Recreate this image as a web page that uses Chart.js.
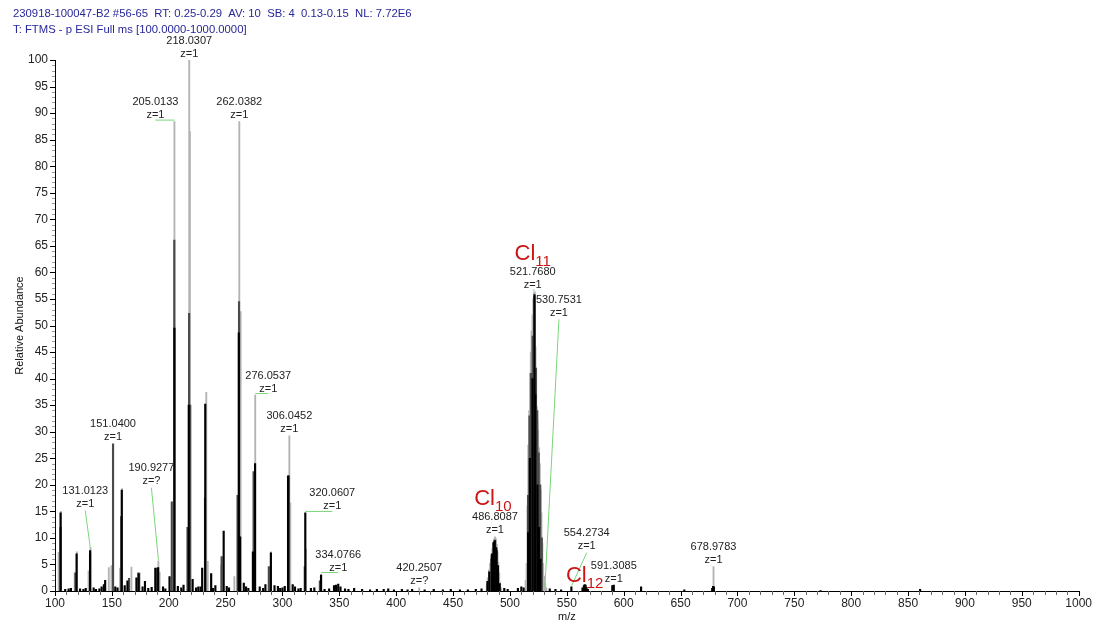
<!DOCTYPE html>
<html>
<head>
<meta charset="utf-8">
<script src="https://cdn.jsdelivr.net/npm/chart.js@4.4.1/dist/chart.umd.min.js"></script>
<style>
  html, body { margin: 0; padding: 0; background: #fff; }
  #wrap { width: 1097px; height: 626px; }
</style>
</head>
<body>
<div id="wrap"><canvas id="spec" width="1097" height="626"></canvas></div>
<script>
// header lines of the scan
const headerLines = [
  '230918-100047-B2 #56-65  RT: 0.25-0.29  AV: 10  SB: 4  0.13-0.15  NL: 7.72E6',
  'T: FTMS - p ESI Full ms [100.0000-1000.0000]'
];

// light grey profile tops (m/z, relative abundance)
const greyMz = [103.2, 104.4, 105.3, 117.3, 119.2, 129.5, 131.2, 147.3, 149.6, 157.2, 159.0,
  167.2, 174.5, 190.9, 192.0, 205.01, 218.03, 218.6, 233.0, 234.3, 246.0, 257.7, 262.04,
  263.2, 276.05, 289.9, 306.05, 306.9, 320.7, 334.08, 420.25,
  479.6, 480.5, 481.5, 482.5, 483.5, 484.5, 485.3, 486.0, 486.8, 487.5, 488.3, 489.0,
  489.8, 490.6, 491.4, 492.3,
  513.8, 514.6, 515.4, 516.1, 516.9, 517.6, 518.3, 519.0, 519.8, 520.5, 521.1, 521.77,
  522.5, 523.1, 523.7, 524.2, 524.8, 525.5, 526.3, 527.0, 527.7, 528.5, 529.2, 530.0,
  531.0, 532.0, 678.98];
const greyAb = [7.3, 11.9, 15.0, 3.4, 7.4, 3.8, 8.2, 4.4, 4.8, 4.3, 19.3,
  4.5, 3.4, 5.7, 3.5, 88.4, 100, 86.5, 37.4, 5.6, 4.9, 2.7, 88.4,
  52.6, 36.9, 7.4, 29.2, 16.6, 7.9, 3.2, 0.6,
  1.2, 2.5, 4.0, 5.2, 6.6, 8.0, 9.2, 9.8, 10.2, 9.9, 8.8, 7.3,
  5.4, 3.4, 1.6, 0.6,
  2.0, 5.2, 16, 27.5, 34, 41, 45, 49, 52, 55, 56.2, 56.4,
  46, 42, 34.7, 32, 30.3, 27, 24, 19, 14.7, 9, 5.2, 2.8,
  1.5, 0.6, 4.6];

// dark grey centroid sticks
const darkMz = [105.0, 118.0, 130.8, 151.04, 158.2, 165.1, 173.3, 189.6, 202.7, 204.9,
  216.5, 217.9, 218.9, 231.9, 246.5, 260.5, 261.8, 274.6, 288.0, 305.6, 319.6, 332.9,
  483.6, 485.4, 487.0, 488.6,
  515.9, 517.2, 518.6, 520.0, 521.4, 522.8, 524.0, 525.3, 526.6, 528.0];
const darkAb = [12.0, 3.4, 7.0, 27.7, 14.0, 2.4, 3.4, 4.3, 16.8, 66.1,
  12.0, 52.3, 35.0, 17.5, 6.5, 18.0, 54.5, 22.5, 4.6, 21.7, 4.6, 1.9,
  6.0, 9.0, 9.6, 7.6,
  18, 33, 41, 48, 55.5, 42, 34, 26, 20, 10];

// black sticks, including the low level baseline peaks
const blackMz = [104.9, 109, 112, 114, 119.0, 122, 125, 127, 130.9, 134, 136, 139, 141, 143,
  144.1, 153, 155, 158.7, 161.3, 163.7, 171.6, 173.6, 177, 179.1, 182, 185, 188.2, 190.7,
  195, 197, 200.7, 205.0, 208, 211, 213, 217.6, 221, 224, 226, 228, 229.4, 232.1, 237.3,
  239, 241, 248.3, 251, 253, 261.6, 262.8, 266, 268, 270, 274.0, 275.9, 280, 283, 285,
  289.8, 293, 296, 298, 300, 302, 304.9, 309, 311, 314, 316, 320.06, 325, 328, 333.9,
  337, 341, 345.3, 347, 349, 351, 355, 358, 363, 370, 377, 383, 389, 393, 398, 405, 410,
  414, 425, 433, 441, 448, 456, 463, 470, 475,
  480.2, 481.8, 484.1, 485.8, 486.6, 488.0, 489.5, 491.0,
  495, 498, 507, 510, 512,
  516.0, 517.5, 519.8, 521.6, 522.3, 524.2, 525.4, 526.8,
  535, 540, 545, 554.0, 563.8, 565.0, 565.7, 566.5, 567.3, 568.5, 590.0, 591.3, 615.3,
  653.3, 677.8, 678.6, 679.3, 773, 860.6];
const blackAb = [14.7, 0.3, 0.4, 0.5, 7.0, 0.4, 0.3, 0.5, 7.6, 0.6, 0.3, 0.4, 0.8, 1.2,
  2.0, 0.8, 0.6, 19.0, 1.0, 1.9, 2.5, 3.3, 0.8, 1.8, 0.5, 0.7, 4.3, 4.4,
  0.8, 0.4, 2.7, 49.5, 0.9, 0.6, 1.1, 35.0, 2.2, 0.6, 0.8, 0.8, 4.3, 35.2, 3.3,
  0.5, 1.0, 11.3, 0.9, 0.6, 48.6, 10.2, 1.5, 0.8, 0.5, 7.4, 24.0, 0.8, 0.5, 1.2,
  7.2, 1.0, 0.9, 0.5, 0.6, 0.9, 21.7, 1.2, 0.8, 0.4, 0.5, 14.7, 0.5, 0.6, 3.0,
  0.3, 0.4, 1.0, 1.1, 1.3, 0.8, 0.4, 0.3, 0.5, 0.3, 0.2, 0.3, 0.3, 0.4, 0.2, 0.3, 0.2,
  0.3, 0.2, 0.3, 0.2, 0.3, 0.2, 0.2, 0.3, 0.4,
  1.8, 3.6, 7.0, 9.2, 9.5, 8.2, 4.8, 1.4,
  0.5, 0.3, 0.5, 0.8, 0.6,
  11, 25, 40, 55.8, 37, 20, 12, 6,
  0.4, 0.3, 0.2, 0.8, 0.6, 1.0, 1.2, 1.1, 0.7, 0.3, 1.0, 1.1, 0.8,
  0.2, 0.5, 0.9, 0.8, 0.1, 0.3];

// annotated peaks
const labelMz = [131.0123, 151.0400, 190.9277, 205.0133, 218.0307, 262.0382, 276.0537,
  306.0452, 320.0607, 334.0766, 420.2507, 486.8087, 521.7680, 530.7531, 554.2734,
  591.3085, 678.9783];
const labelAb = [8.0, 27.7, 5.7, 88.4, 100, 88.4, 36.9, 29.2, 14.7, 3.2, 0.6, 10.2, 56.4,
  0.5, 0.8, 1.1, 4.6];
const labelZ = ['z=1', 'z=1', 'z=?', 'z=1', 'z=1', 'z=1', 'z=1', 'z=1', 'z=1', 'z=1', 'z=?',
  'z=1', 'z=1', 'z=1', 'z=1', 'z=1', 'z=1'];
// layout: pixel shift of each label from its peak top
const labelShift = [[-5, -38], [0, 0], [-7, -73], [-19, 0], [0, 0], [0, 0], [13, 0], [0, 0],
  [27, 0], [17, 0], [0, 0], [0, 0], [-2, 0], [14, -269], [15, -34], [0, 0], [0, 0]];

// chlorine cluster tags
const clusterSub = ['10', '11', '12'];
const clusterMz = [486.8087, 521.7680, 565.7];
const clusterAb = [10.2, 56.4, 1.2];
const clusterShift = [[-2, -32], [-2, -32], [0, -3]];

const FONT = '"Liberation Sans", Arial, sans-serif';

const toPts = (xs, ys) => xs.map((x, i) => ({ x, y: ys[i] }));

const decor = {
  id: 'decor',
  afterDraw(chart) {
    const { ctx, scales: { x, y } } = chart;
    ctx.save();

    // minor / major ticks
    ctx.lineWidth = 1;
    for (let v = 0; v <= 100; v++) {
      const py = Math.round(y.getPixelForValue(v)) + 0.5;
      const major = v % 5 === 0;
      ctx.strokeStyle = major ? '#000' : '#9a9a9a';
      ctx.beginPath();
      ctx.moveTo(x.left, py);
      ctx.lineTo(x.left - (major ? 5 : 3), py);
      ctx.stroke();
    }
    for (let v = 100; v <= 1000; v += 10) {
      const px = Math.round(x.getPixelForValue(v)) + 0.5;
      const major = v % 50 === 0;
      ctx.strokeStyle = major ? '#000' : '#666';
      ctx.beginPath();
      ctx.moveTo(px, y.bottom);
      ctx.lineTo(px, y.bottom + (major ? 5 : 4));
      ctx.stroke();
    }

    // header
    ctx.fillStyle = '#27279a';
    ctx.font = '11.3px ' + FONT;
    ctx.textAlign = 'left';
    ctx.textBaseline = 'middle';
    headerLines.forEach((t, i) => ctx.fillText(t, 13, 14 + i * 16));

    // axis titles
    ctx.fillStyle = '#111';
    ctx.font = '11px ' + FONT;
    ctx.textAlign = 'center';
    ctx.fillText('m/z', (x.left + x.right) / 2, 617);
    ctx.save();
    ctx.translate(20, (y.top + y.bottom) / 2);
    ctx.rotate(-Math.PI / 2);
    ctx.fillText('Relative Abundance', 0, 0);
    ctx.restore();

    // peak labels with green leaders
    labelMz.forEach((mz, i) => {
      const px = x.getPixelForValue(mz);
      const top = y.getPixelForValue(labelAb[i]);
      const [dx, dy] = labelShift[i];
      const ax = px + dx, ay = top + dy;
      ctx.strokeStyle = '#7ad67a';
      ctx.lineWidth = 1;
      if (dy !== 0) {
        ctx.beginPath();
        ctx.moveTo(ax, ay);
        ctx.lineTo(px, top - 1);
        ctx.stroke();
      } else if (dx !== 0) {
        ctx.beginPath();
        ctx.moveTo(px, top - 1.5);
        ctx.lineTo(ax, top - 1.5);
        ctx.stroke();
      }
      ctx.fillStyle = '#222';
      ctx.font = '11px ' + FONT;
      ctx.textAlign = 'center';
      ctx.fillText(mz.toFixed(4), ax, ay - 19.5);
      ctx.fillText(labelZ[i], ax, ay - 6.5);
    });

    // Cl cluster tags
    ctx.textBaseline = 'alphabetic';
    clusterSub.forEach((sub, i) => {
      const px = x.getPixelForValue(clusterMz[i]) + clusterShift[i][0];
      const base = y.getPixelForValue(clusterAb[i]) + clusterShift[i][1];
      ctx.font = '22px ' + FONT;
      const w1 = ctx.measureText('Cl').width;
      ctx.font = '15px ' + FONT;
      const w2 = ctx.measureText(sub).width;
      const left = px - (w1 + w2) / 2;
      ctx.fillStyle = '#cc1414';
      ctx.textAlign = 'left';
      ctx.font = '22px ' + FONT;
      ctx.fillText('Cl', left, base);
      ctx.font = '15px ' + FONT;
      ctx.fillText(sub, left + w1, base + 6);
    });

    ctx.restore();
  }
};

new Chart(document.getElementById('spec'), {
  type: 'bar',
  data: {
    datasets: [
      { label: 'black', data: toPts(blackMz, blackAb), backgroundColor: '#000', barThickness: 1.5, order: 0 },
      { label: 'dark', data: toPts(darkMz, darkAb), backgroundColor: '#4a4a4a', barThickness: 1.5, order: 1 },
      { label: 'grey', data: toPts(greyMz, greyAb), backgroundColor: '#b3b3b3', barThickness: 1.2, order: 2 }
    ]
  },
  options: {
    responsive: false,
    animation: false,
    datasets: { bar: { grouped: false } },
    layout: { padding: { top: 60, right: 14, left: 0, bottom: 0 } },
    plugins: { legend: { display: false }, tooltip: { enabled: false } },
    scales: {
      x: {
        type: 'linear', min: 100, max: 1000, offset: false,
        grid: { display: false, drawTicks: false, offset: false },
        border: { display: true, color: '#000', width: 1 },
        ticks: { stepSize: 50, padding: 5, color: '#222', maxRotation: 0, autoSkip: false,
                 font: { family: FONT, size: 12 }, callback: v => String(v) },
        afterFit: s => { s.height = 35; }
      },
      y: {
        min: 0, max: 100,
        grid: { display: false, drawTicks: false },
        border: { display: true, color: '#000', width: 1 },
        ticks: { stepSize: 5, padding: 7, color: '#222', font: { family: FONT, size: 12 } },
        afterFit: s => { s.width = 55; }
      }
    }
  },
  plugins: [decor]
});
</script>
</body>
</html>
